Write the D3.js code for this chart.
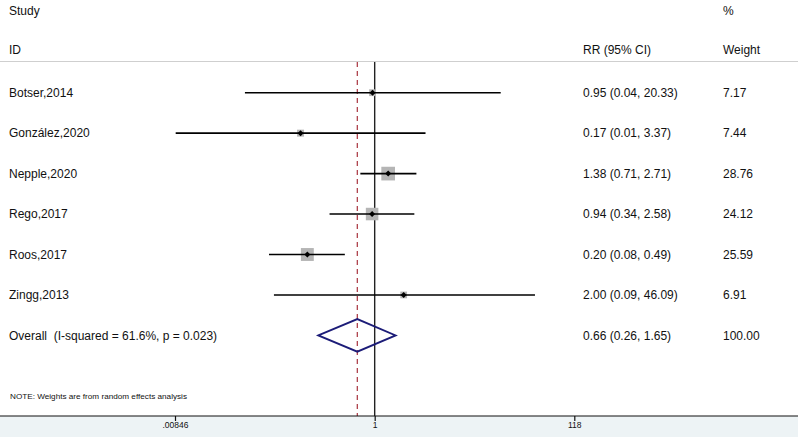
<!DOCTYPE html>
<html><head><meta charset="utf-8">
<script src="https://cdn.jsdelivr.net/npm/d3@7"></script>
<style>body{margin:0;background:#fff}svg{display:block;font-family:Arial,"Liberation Sans",sans-serif}</style>
</head><body>
<svg id="c" width="798" height="437"></svg>
<script>
const studies = ["Botser,2014","González,2020","Nepple,2020","Rego,2017","Roos,2017","Zingg,2013"];
const rr      = [0.95, 0.17, 1.38, 0.94, 0.20, 2.00];
const lo      = [0.045, 0.0086, 0.71, 0.34, 0.08, 0.09];
const hi      = [20.33, 3.37, 2.71, 2.58, 0.49, 46.09];
const weights = [7.17, 7.44, 28.76, 24.12, 25.59, 6.91];
const overall = {label:"Overall  (I-squared = 61.6%, p = 0.023)", rr:0.66, lo:0.26, hi:1.65, weight:100.00};
const tickValues = [0.00846, 1, 118];
const tickLabels = [".00846", "1", "118"];

const svg = d3.select("#c");
const W = 798, H = 437;
const x = d3.scaleLog().domain([0.00846, 118]).range([175, 574.3]);
const y = d3.scaleLinear().domain([0, 6]).range([92.7, 335.4]);
const axisY = 416, topY = 62;
const f2 = d3.format(".2f");

// bottom band
svg.append("rect").attr("x",0).attr("y",axisY).attr("width",W).attr("height",H-axisY).attr("fill","#edf3f5");
// header line
svg.append("line").attr("x1",0).attr("x2",W).attr("y1",61.5).attr("y2",61.5).attr("stroke","#cfcfcf").attr("stroke-width",1.2);

// headers
const hdr = svg.append("g").attr("font-size",12).attr("fill","#111");
hdr.append("text").attr("x",9).attr("y",15).text("Study");
hdr.append("text").attr("x",9).attr("y",53.5).text("ID");
hdr.append("text").attr("x",583).attr("y",53.5).text("RR (95% CI)");
hdr.append("text").attr("x",723).attr("y",15).text("%");
hdr.append("text").attr("x",723).attr("y",53.5).text("Weight");

// reference lines
svg.append("line").attr("x1",x(1)).attr("x2",x(1)).attr("y1",topY).attr("y2",axisY).attr("stroke","#222").attr("stroke-width",1.4);
svg.append("line").attr("x1",x(overall.rr)).attr("x2",x(overall.rr)).attr("y1",topY).attr("y2",axisY)
  .attr("stroke","#a8323e").attr("stroke-width",1.2).attr("stroke-dasharray","5,4");

// studies
const rows = studies.map((s,i)=>({s, rr:rr[i], lo:lo[i], hi:hi[i], w:weights[i], i}));
const g = svg.append("g");
rows.forEach(d=>{
  const cy = y(d.i);
  const side = 2.55*Math.sqrt(d.w);
  g.append("rect").attr("x",x(d.rr)-side/2).attr("y",cy-side/2).attr("width",side).attr("height",side).attr("fill","#b5b5b5");
  g.append("line").attr("x1",x(d.lo)).attr("x2",x(d.hi)).attr("y1",cy).attr("y2",cy).attr("stroke","#000").attr("stroke-width",1.6);
  const px = x(d.rr), r = 3;
  g.append("path").attr("d",`M${px-r},${cy}L${px},${cy-r}L${px+r},${cy}L${px},${cy+r}Z`).attr("fill","#000");
  g.append("text").attr("x",9).attr("y",cy).attr("dy","0.35em").attr("font-size",12).attr("fill","#111").text(d.s);
  g.append("text").attr("x",583).attr("y",cy).attr("dy","0.35em").attr("font-size",12).attr("fill","#111")
    .text(`${f2(d.rr)} (${f2(d.lo)}, ${f2(d.hi)})`);
  g.append("text").attr("x",723).attr("y",cy).attr("dy","0.35em").attr("font-size",12).attr("fill","#111").text(f2(d.w));
});

// overall
const oy = y(6), dh = 16.3;
svg.append("path").attr("d",`M${x(overall.lo)},${oy}L${x(overall.rr)},${oy-dh}L${x(overall.hi)},${oy}L${x(overall.rr)},${oy+dh}Z`)
  .attr("fill","none").attr("stroke","#1c1c78").attr("stroke-width",1.8);
svg.append("text").attr("x",9).attr("y",oy).attr("dy","0.35em").attr("font-size",12).attr("fill","#111")
  .style("white-space","pre").text(overall.label);
svg.append("text").attr("x",583).attr("y",oy).attr("dy","0.35em").attr("font-size",12).attr("fill","#111")
  .text(`${f2(overall.rr)} (${f2(overall.lo)}, ${f2(overall.hi)})`);
svg.append("text").attr("x",723).attr("y",oy).attr("dy","0.35em").attr("font-size",12).attr("fill","#111").text(f2(overall.weight));

// note
svg.append("text").attr("x",10).attr("y",399).attr("font-size",8).attr("fill","#111")
  .attr("textLength",177).attr("lengthAdjust","spacingAndGlyphs")
  .text("NOTE: Weights are from random effects analysis");

// axis
const ax = svg.append("g").attr("transform",`translate(0,${axisY})`)
  .call(d3.axisBottom(x).tickValues(tickValues).tickFormat((d,i)=>tickLabels[i]).tickSize(5).tickSizeOuter(0));
ax.select(".domain").remove();
ax.append("line").attr("x1",0).attr("x2",W).attr("y1",0).attr("y2",0).attr("stroke","#111").attr("stroke-width",1.2);
ax.selectAll(".tick line").attr("stroke","#111").attr("stroke-width",1.2);
ax.selectAll(".tick text").attr("font-size",8.5).attr("font-family","Arial, 'Liberation Sans', sans-serif").attr("fill","#111").attr("dy","0.45em");
</script>
</body></html>
